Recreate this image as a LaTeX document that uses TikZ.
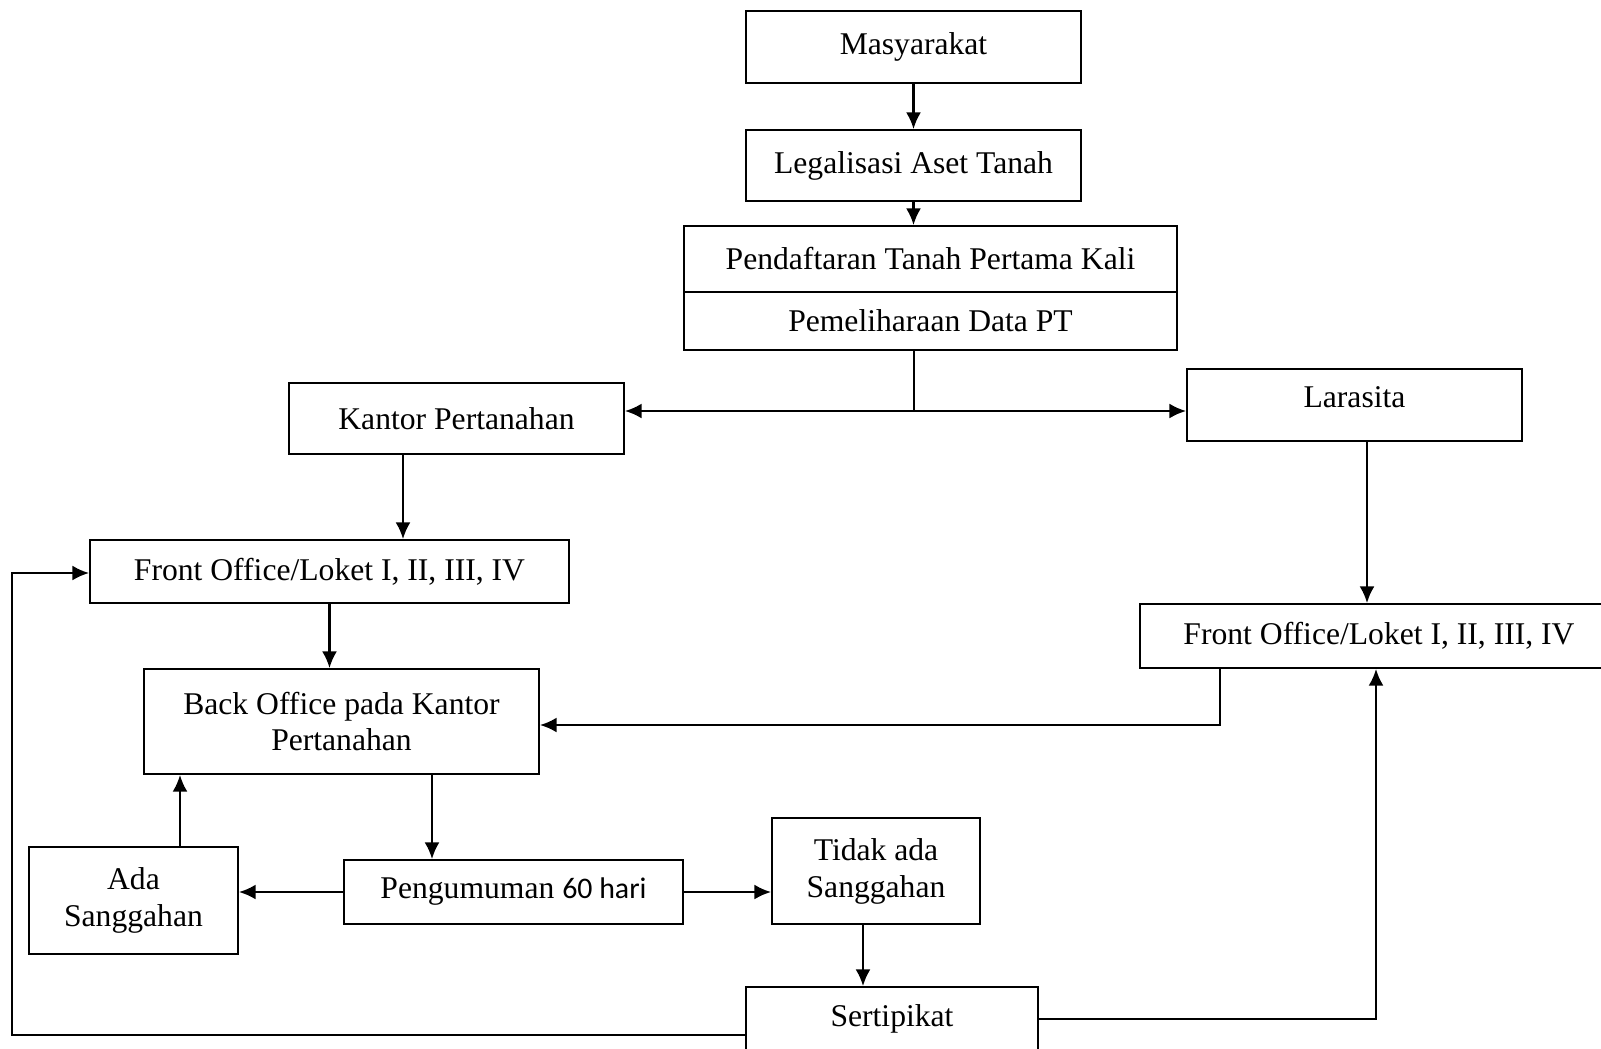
\documentclass[tikz,border=0pt]{standalone}
\usepackage{fontspec}
\setmainfont{Liberation Serif}
\newfontfamily\calibri{Carlito}
\usetikzlibrary{arrows.meta}
\def\pxu{0.02cm}
\tikzset{
  box/.style={draw, line width=1pt, inner sep=0pt, align=center, font=\fontsize{18}{21}\selectfont},
  wh/.style 2 args={minimum width=#1*\pxu, minimum height=#2*\pxu},
  arr/.style={line width=1.4pt, -{Latex[length=9.5pt, width=8.5pt]}},
  ln/.style={line width=1.1pt}
}

\begin{document}
\begin{tikzpicture}[x=0.02cm, y=-0.02cm]
  \path[use as bounding box, clip] (0,0) rectangle (1601,1048);

  % Draw upper boxes
  \node[box, wh={335}{72}] (mas) at (913.5,47) {Masyarakat};
  \node[box, wh={335}{71}] (leg) at (913.5,165.5) {Legalisasi Aset Tanah};
  \node[box, wh={493}{66}] (pend) at (930.5,259) {Pendaftaran Tanah Pertama Kali};
  \node[box, wh={493}{58}] (pem) at (930.5,321) {Pemeliharaan Data PT};

  % Draw office boxes
  \node[box, wh={335}{71}] (kan) at (456.5,418.5) {Kantor Pertanahan};
  \node[box, wh={335}{72}, text depth=16*\pxu] (lar) at (1354.5,405) {Larasita};
  \node[box, wh={479}{63}] (fo1) at (329.5,571.5) {Front Office/Loket I, II, III, IV};
  \node[box, wh={478}{64}] (fo2) at (1379,636) {Front Office/Loket I, II, III, IV};
  \node[box, wh={395}{105}] (bo) at (341.5,721.5) {Back Office pada Kantor\\Pertanahan};

  % Draw lower boxes
  \node[box, wh={339}{64}] (pen) at (513.5,892) {Pengumuman {\calibri\fontsize{17}{21}\selectfont 60 hari}};
  \node[box, wh={209}{107}] (ada) at (133.5,900.5) {Ada\\Sanggahan};
  \node[box, wh={208}{106}] (tid) at (876,871) {Tidak ada\\Sanggahan};
  \node[box, wh={292}{64}] (ser) at (892,1019) {Sertipikat};

  % Arrows down the middle
  \draw[arr] (mas.south) -- (leg.north);
  \draw[arr] (leg.south) -- (leg.south |- pend.north);
  \coordinate (split) at (914,411);
  \draw[ln] (914,0 |- pem.south) -- (split);
  \draw[arr] (split) -- (split -| kan.east);
  \draw[arr] (split) -- (split -| lar.west);

  % Arrows to the front offices
  \draw[arr] (403,0 |- kan.south) -- (403,0 |- fo1.north);
  \draw[arr] (1367,0 |- lar.south) -- (1367,0 |- fo2.north);
  \draw[arr] (fo1.south) -- (fo1.south |- bo.north);
  \draw[arr] (1220,0 |- fo2.south) |- (bo.east |- 0,725);

  % Announcement and objections
  \draw[arr] (432,0 |- bo.south) -- (432,0 |- pen.north);
  \draw[arr] (pen.west) -- (pen.west -| ada.east);
  \draw[arr] (180,0 |- ada.north) -- (180,0 |- bo.south);
  \draw[arr] (pen.east) -- (pen.east -| tid.west);
  \draw[arr] (863,0 |- tid.south) -- (863,0 |- ser.north);

  % Certificate back to the front offices
  \draw[arr] (ser.east) -| (1376,0 |- fo2.south);
  \coordinate (loopa) at (12,1035);
  \coordinate (loopb) at (12,573);
  \draw[arr] (ser.west |- loopa) -- (loopa) -- (loopb) -- (loopb -| fo1.west);
\end{tikzpicture}
\end{document}
